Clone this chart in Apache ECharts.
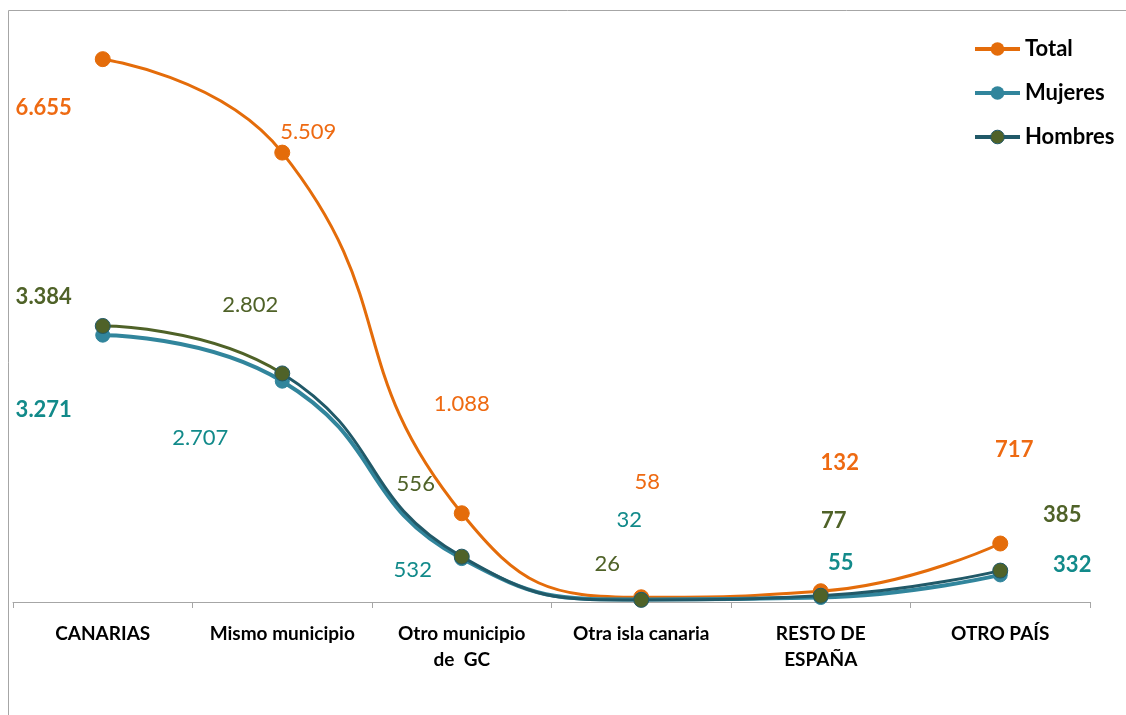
<!DOCTYPE html>
<html>
<head>
<meta charset="utf-8">
<script src="https://cdn.jsdelivr.net/npm/echarts@6/dist/echarts.min.js"></script>
<style>
html,body{margin:0;padding:0;background:#fff;}
#c{width:1126px;height:715px;}
</style>
</head>
<body>
<div id="c"></div>
<script>
const categories = ['CANARIAS', 'Mismo municipio', 'Otro municipio\nde  GC', 'Otra isla canaria', 'RESTO DE\nESPAÑA', 'OTRO PAÍS'];
const totalValues = [6655, 5509, 1088, 58, 132, 717];
const mujeresValues = [3271, 2707, 532, 32, 55, 332];
const hombresValues = [3384, 2802, 556, 26, 77, 385];
const seriesNames = ['Total', 'Mujeres', 'Hombres'];

// label placement (style only)
const boldFlags = [true, false, false, false, true, true];
const totalOffsets = [[-59, 49], [26, -21], [0, -109], [6, -115], [19, -128], [14, -94]];
const mujeresOffsets = [[-59, 75], [-82, 57], [-49, 11], [-12, -79], [20, -35], [72, -10]];
const hombresOffsets = [[-59, -29], [-32, -69], [-46, -73], [-34, -36], [13, -75], [62, -56]];

const fmt = v => v >= 1000 ? (Math.floor(v / 1000) + '.' + String(v % 1000).padStart(3, '0')) : String(v);
const FONT = 'Lato, "Open Sans", sans-serif';

function build(values, offsets, labelColor, markerColor, borderColor) {
  return values.map((v, i) => ({
    value: v,
    itemStyle: { color: markerColor, borderColor: borderColor, borderWidth: 1 },
    label: {
      show: true,
      position: 'inside',
      offset: offsets[i],
      formatter: fmt(v),
      color: labelColor,
      fontSize: 22,
      fontFamily: FONT,
      fontWeight: boldFlags[i] ? 'bold' : 'normal'
    }
  }));
}

const hombresLine = new echarts.graphic.LinearGradient(0, 0, 1, 0, [
  { offset: 0, color: '#4F6228' },
  { offset: 0.2, color: '#4F6228' },
  { offset: 0.2, color: '#215968' },
  { offset: 1, color: '#215968' }
]);

const chart = echarts.init(document.getElementById('c'));
chart.setOption({
  animation: false,
  backgroundColor: '#fff',
  grid: { left: 13, right: 36, top: 31, bottom: 113, containLabel: false },
  graphic: [
    { type: 'line', shape: { x1: 8.5, y1: 10.5, x2: 1126, y2: 10.5 }, style: { stroke: '#a6a6a6', lineWidth: 1 } },
    { type: 'line', shape: { x1: 8.5, y1: 10.5, x2: 8.5, y2: 715 }, style: { stroke: '#a6a6a6', lineWidth: 1 } }
  ],
  legend: {
    orient: 'vertical',
    left: 968,
    top: 33,
    itemWidth: 45,
    itemHeight: 17,
    itemGap: 22,
    textStyle: { fontFamily: FONT, fontSize: 22, fontWeight: 'bold', color: '#000' },
    data: [
      { name: 'Total', itemStyle: { color: '#E46C0A' }, lineStyle: { color: '#E46C0A', width: 4 } },
      { name: 'Mujeres', itemStyle: { color: '#31859C' }, lineStyle: { color: '#31859C', width: 4 } },
      { name: 'Hombres', itemStyle: { color: '#4F6228', borderColor: '#215968', borderWidth: 1 }, lineStyle: { color: '#215968', width: 4 } }
    ]
  },
  xAxis: {
    type: 'category',
    data: categories,
    boundaryGap: true,
    axisLine: { lineStyle: { color: '#a6a6a6', width: 1 } },
    axisTick: { show: true, length: 6, lineStyle: { color: '#a6a6a6' } },
    axisLabel: {
      interval: 0,
      margin: 19,
      fontFamily: FONT,
      fontSize: 19,
      fontWeight: 'bold',
      color: '#000',
      lineHeight: 26
    }
  },
  yAxis: {
    type: 'value',
    min: 0,
    max: 7000,
    show: false,
    splitLine: { show: false }
  },
  series: [
    {
      name: seriesNames[0],
      type: 'line',
      smooth: true,
      symbol: 'circle',
      symbolSize: 15,
      lineStyle: { color: '#E46C0A', width: 3 },
      color: '#E46C0A',
      data: build(totalValues, totalOffsets, '#EE6A12', '#E46C0A', '#E46C0A'),
      z: 2
    },
    {
      name: seriesNames[1],
      type: 'line',
      smooth: true,
      symbol: 'circle',
      symbolSize: 14,
      lineStyle: { color: '#31859C', width: 4 },
      color: '#31859C',
      data: build(mujeresValues, mujeresOffsets, '#128A8A', '#31859C', '#31859C'),
      z: 3
    },
    {
      name: seriesNames[2],
      type: 'line',
      smooth: true,
      symbol: 'circle',
      symbolSize: 15,
      lineStyle: { width: 3, color: hombresLine },
      color: '#4F6228',
      data: build(hombresValues, hombresOffsets, '#4F6228', '#4F6228', '#215968'),
      z: 4
    }
  ]
});
</script>
</body>
</html>
